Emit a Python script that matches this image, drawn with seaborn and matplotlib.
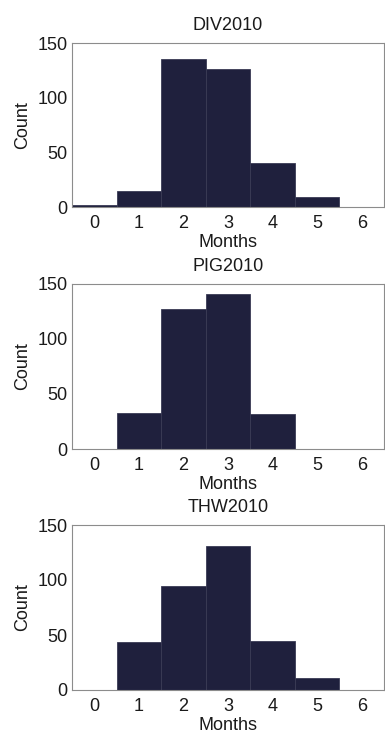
import matplotlib
matplotlib.use("Agg")
import matplotlib.pyplot as plt
import seaborn as sns
import numpy as np

months = [0, 1, 2, 3, 4, 5, 6]
titles = ["DIV2010", "PIG2010", "THW2010"]
div_counts = [2, 15, 135, 126, 40, 9, 0]
pig_counts = [0, 33, 127, 141, 32, 0, 0]
thw_counts = [0, 44, 95, 131, 45, 11, 0]
all_counts = [div_counts, pig_counts, thw_counts]
yticks = [0, 50, 100, 150]

sns.set_style("white")
plt.rcParams['font.family'] = ['Liberation Sans', 'DejaVu Sans']

W, H = 385, 734
fig = plt.figure(figsize=(W / 100, H / 100), dpi=100)

# axes boxes in pixels: (top, bottom)
boxes = [(43, 207), (284, 449), (525, 690)]
left_px, right_px = 72, 384

bar_color = "#1f203d"
text_color = "#1a1a1a"
fs = 13

for (top, bot), title, counts in zip(boxes, titles, all_counts):
    ax = fig.add_axes([left_px / W, 1 - bot / H, (right_px - left_px) / W, (bot - top) / H])
    sns.histplot(x=months, weights=counts, discrete=True, ax=ax,
                 color=bar_color, alpha=1, edgecolor="#3a3b55", linewidth=0.6)
    ax.set_xlim(-0.5, 6.5)
    ax.set_ylim(0, 150)
    ax.set_xticks(months)
    ax.set_yticks(yticks)
    ax.tick_params(axis="both", direction="in", length=2, width=0.6, color="#888888",
                   labelsize=fs, labelcolor=text_color)
    ax.tick_params(axis="x", pad=6)
    ax.tick_params(axis="y", pad=3)
    ax.set_title(title, fontsize=fs, color=text_color, pad=9)
    ax.set_xlabel("Months", fontsize=fs, color=text_color, labelpad=1)
    ax.set_ylabel("Count", fontsize=fs, color=text_color, labelpad=5)
    for s in ax.spines.values():
        s.set_visible(True)
        s.set_color("#8c8c8c")
        s.set_linewidth(0.8)

fig.savefig("out.png", dpi=100)
